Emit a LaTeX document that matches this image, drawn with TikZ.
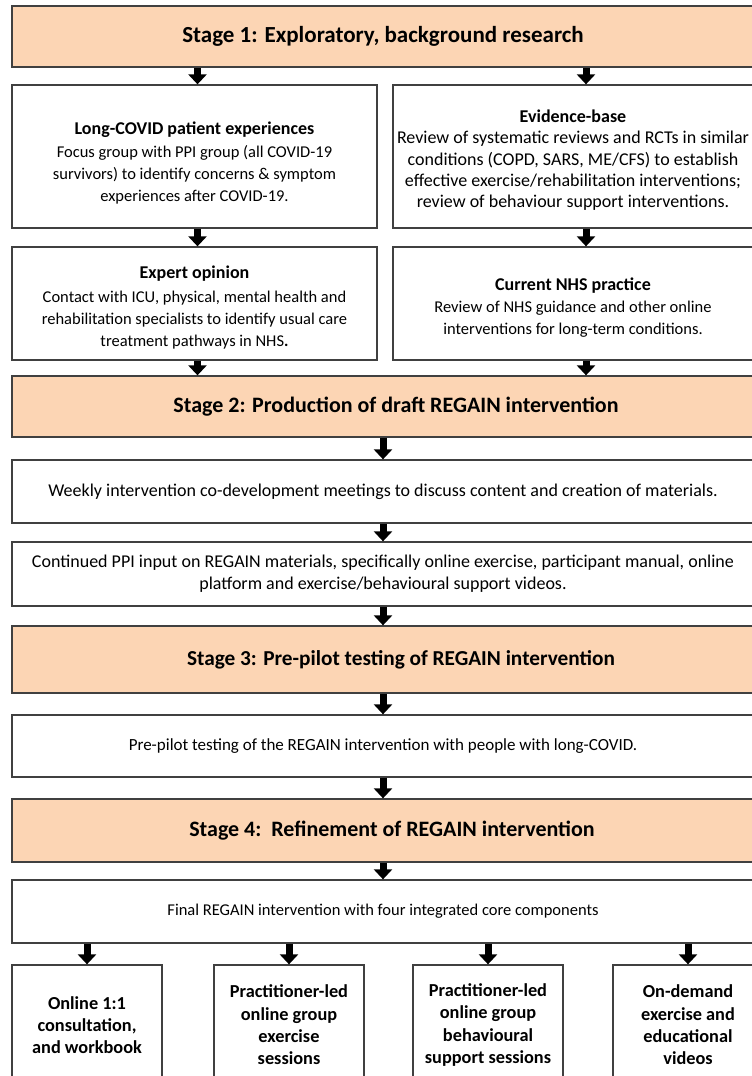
\documentclass[tikz,border=0pt]{standalone}
\usepackage{fontspec}
\setmainfont{Carlito}
\usetikzlibrary{arrows.meta}
\definecolor{stagefill}{RGB}{252,213,180}
\definecolor{boxline}{RGB}{64,64,64}
\tikzset{
  % peach box for each stage heading
  stagebox/.style={draw=boxline,fill=stagefill,line width=1.3pt,inner sep=0pt,
    minimum width=742pt,font=\fontsize{22}{26}\selectfont\bfseries},
  % white box for the steps inside a stage
  stepbox/.style={draw=boxline,fill=white,line width=1.3pt,inner sep=0pt,
    align=center,font=\fontsize{18}{22}\selectfont},
  % bold text of the component boxes at the foot
  partbox/.style={stepbox,minimum width=150pt,minimum height=120pt,
    font=\fontsize{18.3}{22.3}\selectfont\bfseries},
  % short thick arrow between boxes
  down arrow/.style={line width=7pt,-{Triangle[width=18pt,length=10pt]}},
}
\newcommand{\boxhead}[2]{\rule{0pt}{#1pt}{\fontsize{18}{22}\selectfont\bfseries #2}}

\begin{document}
\begin{tikzpicture}[x=1pt,y=-1pt]
\useasboundingbox (0,0) rectangle (752,1076);
\clip (0,0) rectangle (752,1076);
% stage 1
\node[stagebox,minimum height=61pt,font=\fontsize{23}{26}\selectfont\bfseries] (stage1) at (383,36.5)
  {Stage 1: Exploratory, background research};
\node[stepbox,minimum width=365pt,minimum height=143pt,font=\fontsize{16.5}{22}\selectfont] (patient) at (194.5,156.5)
  {\boxhead{26}{Long-COVID patient experiences}\\[1pt]
   Focus group with PPI group (all COVID-19\\
   survivors) to identify concerns \& symptom\\
   experiences after COVID-19.};
\node[stepbox,minimum width=360pt,minimum height=143pt,font=\fontsize{18}{21.3}\selectfont] (evidence) at (573,156.5)
  {\boxhead{20}{Evidence-base}\\
   Review of systematic reviews and RCTs in similar\\
   conditions (COPD, SARS, ME/CFS) to establish\\
   effective exercise/rehabilitation interventions;\\
   review of behaviour support interventions.};
\node[stepbox,minimum width=365pt,minimum height=113pt,font=\fontsize{16.5}{22}\selectfont] (expert) at (194.5,303.5)
  {\boxhead{21}{Expert opinion}\\[2pt]
   Contact with ICU, physical, mental health and\\
   rehabilitation specialists to identify usual care\\
   treatment pathways in NHS\textbf{.}};
\node[stepbox,minimum width=360pt,minimum height=113pt,font=\fontsize{16.5}{22}\selectfont] (nhs) at (573,303.5)
  {\boxhead{21}{Current NHS practice}\\
   Review of NHS guidance and other online\\
   interventions for long-term conditions.};
% stage 2
\node[stagebox,minimum width=768pt,minimum height=61pt] (stage2) at (396,406.5)
  {Stage 2: Production of draft REGAIN intervention};
\node[stepbox,minimum width=742pt,minimum height=63pt] (weekly) at (383,491.5)
  {Weekly intervention co-development meetings to discuss content and creation of materials.};
\node[stepbox,minimum width=742pt,minimum height=64pt] (ppi) at (383,574)
  {Continued PPI input on REGAIN materials, specifically online exercise, participant manual, online\\
   platform and exercise/behavioural support videos.};
% stage 3
\node[stagebox,minimum width=778pt,minimum height=67pt,font=\fontsize{21.3}{26}\selectfont\bfseries] (stage3) at (401,659.5)
  {Stage 3: Pre-pilot testing of REGAIN intervention};
\node[stepbox,minimum width=742pt,minimum height=62pt,font=\fontsize{17}{22}\selectfont] (prepilot) at (383,746)
  {Pre-pilot testing of the REGAIN intervention with people with long-COVID.};
% stage 4
\node[stagebox,minimum width=760pt,minimum height=63pt] (stage4) at (392,830.5)
  {Stage 4:\ \ Refinement of REGAIN intervention};
\node[stepbox,minimum width=742pt,minimum height=63pt,font=\fontsize{16.5}{22}\selectfont] (final) at (383,911.5)
  {Final REGAIN intervention with four integrated core components};
\node[partbox] (consult) at (87,1025) {Online 1:1\\consultation,\\and workbook};
\node[partbox] (exercise) at (289,1025) {Practitioner-led\\online group\\exercise\\sessions};
\node[partbox] (support) at (488,1025) {Practitioner-led\\online group\\behavioural\\support sessions};
\node[partbox] (videos) at (688,1025) {On-demand\\exercise and\\educational\\videos};
% arrows
\coordinate (righttop) at ([xshift=13pt]evidence.north);
\coordinate (rightmid) at ([xshift=13pt]nhs.north);
\coordinate (rightlow) at ([xshift=13pt]nhs.south);
\draw[down arrow] ([xshift=3pt]stage1.south -| patient.north) -- ([xshift=3pt]patient.north);
\draw[down arrow] (righttop |- stage1.south) -- (righttop);
\draw[down arrow] ([xshift=3pt]patient.south) -- ([xshift=3pt]expert.north);
\draw[down arrow] (righttop |- evidence.south) -- (rightmid);
\draw[down arrow] ([xshift=3pt]expert.south) -- ([xshift=3pt]expert.south |- stage2.north);
\draw[down arrow] (rightlow) -- (rightlow |- stage2.north);
\draw[down arrow] (stage2.south -| weekly.north) -- (weekly.north);
\draw[down arrow] (weekly.south) -- (ppi.north);
\draw[down arrow] (ppi.south) -- (ppi.south |- stage3.north);
\draw[down arrow] (prepilot.north |- stage3.south) -- (prepilot.north);
\draw[down arrow] (prepilot.south) -- (prepilot.south |- stage4.north);
\draw[down arrow] (final.north |- stage4.south) -- (final.north);
\draw[down arrow] (final.south -| consult.north) -- (consult.north);
\draw[down arrow] (final.south -| exercise.north) -- (exercise.north);
\draw[down arrow] (final.south -| support.north) -- (support.north);
\draw[down arrow] (final.south -| videos.north) -- (videos.north);
\end{tikzpicture}
\end{document}
